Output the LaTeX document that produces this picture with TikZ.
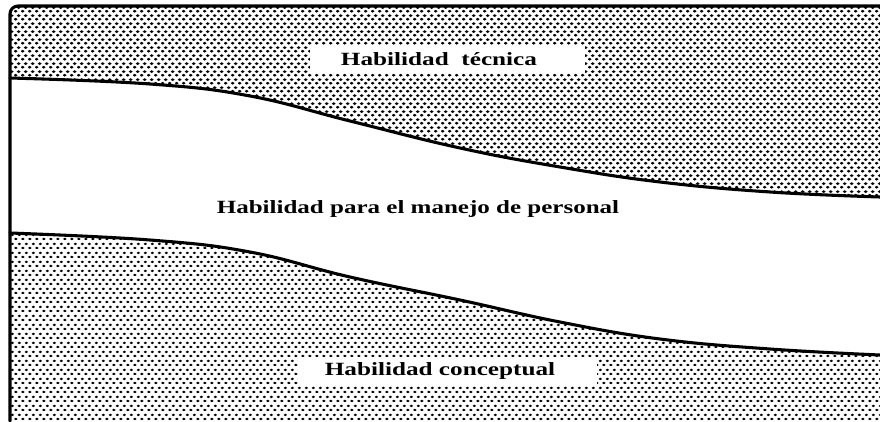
\documentclass[tikz,border=0pt]{standalone}
\usepackage{fontspec}
\usepackage{graphicx}
\setmainfont{Liberation Serif}
\usetikzlibrary{patterns}
\pgfdeclarepatternformonly{halftonedark}{\pgfqpoint{0pt}{0pt}}{\pgfqpoint{5.25pt}{6pt}}{\pgfqpoint{5.25pt}{6pt}}{%
  \pgfpathellipse{\pgfqpoint{1.4pt}{1.5pt}}{\pgfqpoint{1.7pt}{0pt}}{\pgfqpoint{0pt}{1.2pt}}%
  \pgfpathellipse{\pgfqpoint{4.025pt}{4.5pt}}{\pgfqpoint{1.7pt}{0pt}}{\pgfqpoint{0pt}{1.2pt}}%
  \pgfusepath{fill}}
\pgfdeclarepatternformonly{halftonelight}{\pgfqpoint{0pt}{0pt}}{\pgfqpoint{5.6pt}{6.4pt}}{\pgfqpoint{5.6pt}{6.4pt}}{%
  \pgfpathellipse{\pgfqpoint{1.5pt}{1.6pt}}{\pgfqpoint{1.45pt}{0pt}}{\pgfqpoint{0pt}{1.0pt}}%
  \pgfpathellipse{\pgfqpoint{4.3pt}{4.8pt}}{\pgfqpoint{1.45pt}{0pt}}{\pgfqpoint{0pt}{1.0pt}}%
  \pgfusepath{fill}}
\tikzset{
  bandtop/.style={pattern=halftonedark, pattern color=black},
  bandbottom/.style={pattern=halftonelight, pattern color=black},
  edge/.style={line width=2.3pt, line cap=round, line join=round},
  lab/.style={font=\bfseries\fontsize{14pt}{16pt}\selectfont, inner sep=0pt},
  labbox/.style={fill=white, draw=none}
}
\def\topcurve{(10,78) (150,84) (250,96) (350,121) (460,148) (560,167) (660,182) (770,192) (880,197)}
\def\bottomcurve{(10,233) (150,240) (250,252) (350,277) (460,300) (560,322) (660,339) (770,349) (880,355)}
\begin{document}
\begin{tikzpicture}[x=0.75pt, y=-0.75pt]
\useasboundingbox (0,0) rectangle (880,421);
% top patterned band
\path[bandtop] plot[smooth, tension=0.7] coordinates {\topcurve}
  -- (880,6) -- (18,6) to[out=180,in=90] (10,14) -- cycle;
% bottom patterned band
\path[bandbottom] plot[smooth, tension=0.7] coordinates {\bottomcurve}
  -- (880,421) -- (10,421) -- cycle;
% boundary lines
\draw[edge] plot[smooth, tension=0.7] coordinates {\topcurve};
\draw[edge] plot[smooth, tension=0.7] coordinates {\bottomcurve};
\draw[edge] (880,6) -- (18,6) to[out=180,in=90] (10,14) -- (10,421);
% label boxes
\fill[labbox] (310,46) rectangle (585,73);
\fill[labbox] (298,357) rectangle (597,386);
\node[lab] (tecnica) at (439,59) {\scalebox{1.35}[1]{Habilidad\ \ técnica}};
\node[lab] (personal) at (418,209) {\scalebox{1.34}[1]{Habilidad para el manejo de personal}};
\node[lab] (conceptual) at (440,371) {\scalebox{1.35}[1]{Habilidad conceptual}};
\end{tikzpicture}
\end{document}
